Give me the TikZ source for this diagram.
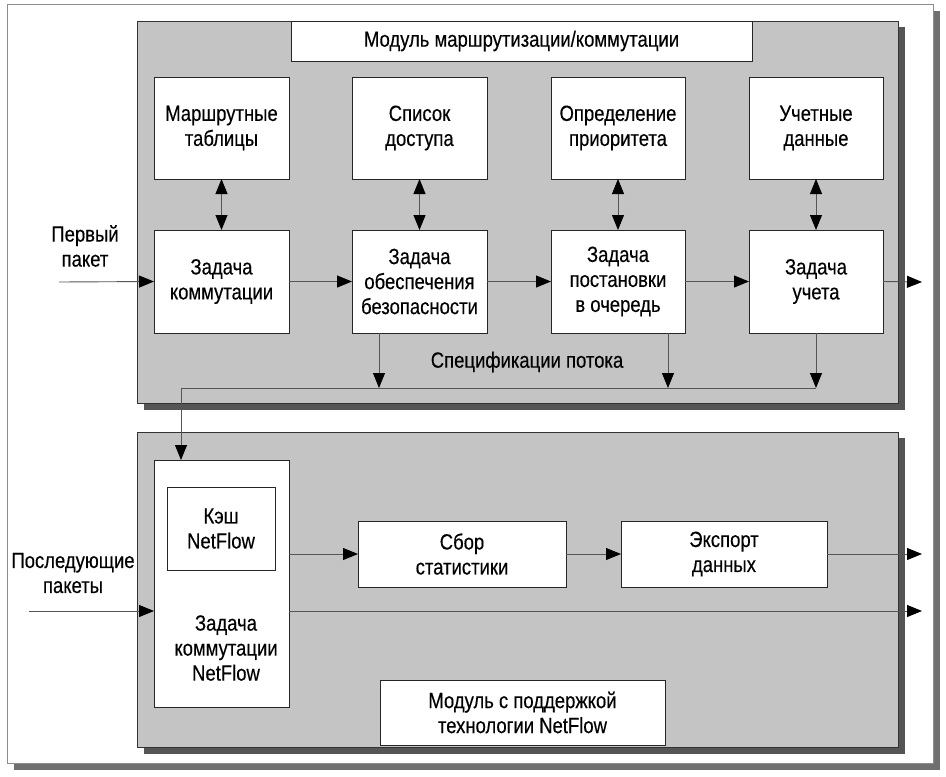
\documentclass[tikz,border=0pt]{standalone}
\usepackage{fontspec}
\setmainfont{Liberation Sans}[FakeStretch=0.84,FakeBold=0.3]
\usetikzlibrary{arrows.meta,calc}
\definecolor{modfill}{HTML}{C4C4C4}
\definecolor{modshadow}{HTML}{555555}
\definecolor{frameshadow}{HTML}{707070}
\definecolor{framedraw}{HTML}{8C8C8C}
\definecolor{linegray}{HTML}{555555}
\begin{document}
\begin{tikzpicture}[x=1pt,y=-1pt,
  every node/.style={font=\fontsize{22}{25}\selectfont, align=center},
  box/.style={draw=black!85, fill=white, line width=0.8pt, anchor=north west, inner sep=0pt, outer sep=0pt},
  arr/.style={draw=linegray, line width=0.9pt, -{Triangle[length=15pt,width=12pt,color=black]}},
  darr/.style={draw=linegray, line width=0.9pt, {Triangle[length=15pt,width=12pt,color=black]}-{Triangle[length=15pt,width=12pt,color=black]}},
  module/.style={fill=modfill, draw=black!80, line width=0.8pt},
  mshadow/.style={fill=modshadow},
  lbl/.style={inner sep=0pt}
]
\useasboundingbox (0,0) rectangle (946,777);
% outer frame
\fill[frameshadow] (14,11) rectangle (940,770);
\filldraw[fill=white, draw=framedraw, line width=1pt] (7,4) rectangle (933,763);
% upper module
\fill[mshadow] (144,27) rectangle (905,410);
\draw[module] (137,21) rectangle (898,403);
% lower module
\fill[mshadow] (144,438) rectangle (905,754);
\draw[module] (137,432) rectangle (898,747);

% upper title
\node[box, minimum width=461pt, minimum height=40pt] (title) at (291,21) {Модуль маршрутизации/коммутации};
% top row
\node[box, minimum width=135pt, minimum height=102pt] (mt) at (154,77) {Маршрутные\\таблицы};
\node[box, minimum width=135pt, minimum height=102pt] (sd) at (352,77) {Список\\доступа};
\node[box, minimum width=134pt, minimum height=102pt] (op) at (551,77) {Определение\\приоритета};
\node[box, minimum width=134pt, minimum height=102pt] (ud) at (749,77) {Учетные\\данные};
% second row
\node[box, minimum width=135pt, minimum height=103pt] (zk) at (154,230) {Задача\\коммутации};
\node[box, minimum width=135pt, minimum height=103pt] (zb) at (352,230) {Задача\\обеспечения\\безопасности};
\node[box, minimum width=134pt, minimum height=103pt] (zp) at (551,230) {Задача\\постановки\\в очередь};
\node[box, minimum width=134pt, minimum height=103pt] (zu) at (749,230) {Задача\\учета};

\node[lbl] (pp) at (85,246) {Первый\\пакет};
\node[lbl] (spec) at (527,362) {Спецификации потока};

\coordinate (in1) at (59,282);
\coordinate (out1) at (922,282);
\coordinate (s1) at (379,388);
\coordinate (s2) at (668,388);
\coordinate (s3) at (816,388);
\coordinate (sL) at (181,388);

% lower module boxes
\node[box, minimum width=135pt, minimum height=247pt] (nf) at (154,460) {};
\node[box, minimum width=108pt, minimum height=83pt] (kesh) at (167,487) {Кэш\\NetFlow};
\node[lbl] (nftxt) at (226,648) {Задача\\коммутации\\NetFlow};
\node[box, minimum width=208pt, minimum height=66pt] (sb) at (358,521) {Сбор\\статистики};
\node[box, minimum width=206pt, minimum height=66pt] (ex) at (621,521) {Экспорт\\данных};
\node[box, minimum width=285pt, minimum height=65pt] (nfmod) at (380,680) {Модуль с поддержкой\\технологии NetFlow};

\node[lbl] (pk) at (73,573) {Последующие\\пакеты};

\coordinate (in2) at (29,611);
\coordinate (out2) at (922,611);
\coordinate (out3) at (922,554);

% upper connectors
\draw[darr] (mt.south) -- (zk.north);
\draw[darr] (sd.south) -- (zb.north);
\draw[darr] (op.south) -- (zp.north);
\draw[darr] (ud.south) -- (zu.north);
\draw[arr] (in1) -- (zk.west);
\draw[arr] (zk.east) -- (zb.west);
\draw[arr] (zb.east) -- (zp.west);
\draw[arr] (zp.east) -- (zu.west);
\draw[arr] (zu.east) -- (out1);
\draw[arr] (zb.south -| s1) -- (s1);
\draw[arr] (zp.south -| s2) -- (s2);
\draw[arr] (zu.south -| s3) -- (s3);
\draw[arr] (s3) -- (sL) -- (nf.north -| sL);

% lower connectors
\draw[arr] (nf.east |- sb.west) -- (sb.west);
\draw[arr] (sb.east) -- (ex.west);
\draw[arr] (ex.east) -- (out3);
\draw[arr] (in2) -- (nf.west |- in2);
\draw[arr] (nf.east |- in2) -- (out2);
\end{tikzpicture}
\end{document}
